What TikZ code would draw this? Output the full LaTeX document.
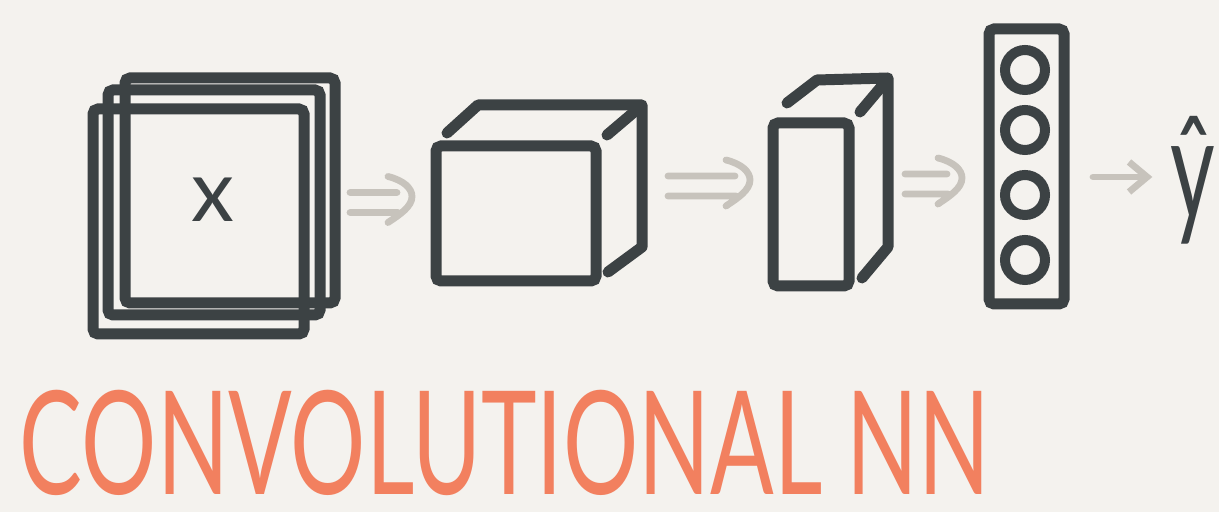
\documentclass[tikz,border=0pt]{standalone}
\usepackage{fontspec}
\setmainfont{Lato}
\usepackage{graphicx}
\usepackage{tikz}
\usetikzlibrary{positioning,arrows.meta,calc}
\definecolor{ink}{HTML}{3C4244}
\definecolor{paper}{HTML}{F4F2EE}
\definecolor{pale}{HTML}{C7C3BC}
\definecolor{coral}{HTML}{F2805F}

\begin{document}
\begin{tikzpicture}[x=0.5pt, y=-0.5pt,
    layer/.style={draw=ink, line width=5.5pt, rounded corners=2.5pt, inner sep=0pt, outer sep=0pt},
    edge/.style={draw=ink, line width=5.5pt, line cap=round, line join=round},
    unit/.style={circle, draw=ink, line width=5pt, minimum size=20pt, inner sep=0pt},
    flow/.style={pale, line width=3.4pt, line cap=round, to path={
        ($(\tikztostart)+(0,5pt)$) -- ($(\tikztotarget)+(-7.5pt,5pt)$)
        ($(\tikztostart)+(0,-5pt)$) -- ($(\tikztotarget)+(-7pt,-5pt)$)
        ($(\tikztotarget)+(-12pt,13pt)$) .. controls ($(\tikztotarget)+(-4pt,11pt)$)
            and ($(\tikztotarget)+(0pt,7pt)$) .. ($(\tikztotarget)+(0pt,3pt)$)
        .. controls ($(\tikztotarget)+(0pt,-2pt)$) and ($(\tikztotarget)+(-6pt,-6pt)$)
            .. ($(\tikztotarget)+(-12pt,-10pt)$)}},
    single/.style={pale, line width=3.4pt, line cap=round, -{Straight Barb[length=9pt, width=15pt]}}]
    \useasboundingbox (0,0) rectangle (1219,512);
    \fill[paper] (0,0) rectangle (1219,512);

    % input: stacked channels
    \node[layer, minimum width=105pt, minimum height=112.5pt] (back) at (230,190.5) {};
    \node[layer, minimum width=106pt, minimum height=112.5pt] (mid) at (214,202.5) {};
    \node[layer, minimum width=105.5pt, minimum height=112.5pt] (front) at (198.5,221.5) {};
    \node[text=ink, font=\fontsize{43}{43}\selectfont, inner sep=0pt] (xin) at (213,200) {x};

    % first feature volume
    \node[layer, minimum width=80pt, minimum height=67.5pt] (c1) at (516,213.5) {};
    \draw[edge] ([shift={(11,-13)}]c1.north west) -- ++(31,-28) -- ++(164,0)
        -- ++(0,142) -- ++(-34,25);
    \draw[edge] ([shift={(11,-11)}]c1.north east) -- ++(33,-28);

    % second feature volume
    \node[layer, minimum width=38pt, minimum height=81.5pt] (c2) at (811,204.5) {};
    \draw[edge] ([shift={(14,-20)}]c2.north west) -- ++(30,-23) -- ++(71,-2)
        -- ++(0,169) -- ++(-26,31);
    \draw[edge] ([shift={(11,-11)}]c2.north east) -- ++(27,-32);

    % fully connected layer
    \node[layer, minimum width=37.5pt, minimum height=137.5pt] (fc) at (1026.5,166.5) {};
    \foreach \i/\yy in {1/70,2/130,3/195,4/260}
        \node[unit] (u\i) at (1025,\yy) {};

    % output
    \node[text=ink, font=\fontsize{72}{72}\selectfont, inner sep=0pt] (yhat) at (1193,180)
        {\scalebox{0.6}[1]{ŷ}};

    % arrows between the stages
    \path ([shift={(15,12)}]back.east) coordinate (f1a)
          ([shift={(-24,-11)}]c1.west) coordinate (f1b)
          ([shift={(72,-27.5)}]c1.east) coordinate (f2a)
          ([shift={(-23,-18.5)}]c2.west) coordinate (f2b)
          ([shift={(56,-20.5)}]c2.east) coordinate (f3a)
          ([shift={(-27,17.5)}]fc.west) coordinate (f3b)
          ([shift={(29,10.5)}]fc.east) coordinate (f4a)
          ([shift={(-18,-3)}]yhat.west) coordinate (f4b);
    \draw[flow] (f1a) to (f1b);
    \draw[flow] (f2a) to (f2b);
    \draw[flow] (f3a) to (f3b);
    \draw[single] (f4a) -- (f4b);

    \node[text=coral, inner sep=0pt, font=\fontsize{72}{72}\selectfont] (title) at (505,443)
        {\resizebox{485pt}{\height}{CONVOLUTIONAL NN}};
\end{tikzpicture}
\end{document}
